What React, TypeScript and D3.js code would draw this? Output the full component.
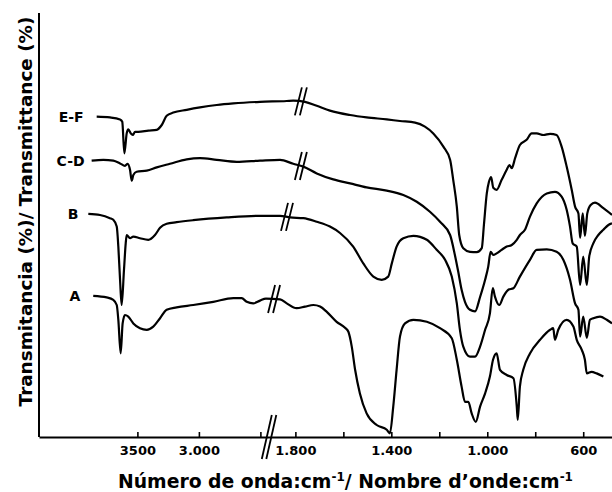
import React, { useRef, useEffect } from 'react';
import * as d3 from 'd3';

type Pt = [number, number];

// wavenumber (cm-1) / transmittance (offset, arbitrary units)
const spectrumEF: Pt[] = [
  [3831, 80.1], [3723, 79.9], [3641, 79.4], [3623, 78.8], [3606, 70.9], [3587, 75.9], [3574, 76.9],
  [3554, 75.9], [3538, 75.5], [3519, 76.3], [3493, 76.3], [3411, 76.6], [3343, 76.8], [3302, 78],
  [3262, 80.3], [3208, 81.1], [3099, 81.8], [2991, 82.4], [2855, 83], [2720, 83.4], [2503, 83.8],
  [1836, 84], [1809, 84.1], [1760, 83.8], [1711, 82.8], [1656, 81.6], [1572, 80.5], [1503, 79.9],
  [1419, 79.4], [1364, 79], [1301, 78.6], [1260, 77.6], [1225, 75.9], [1183, 72.6], [1155, 69.3],
  [1142, 64.3], [1127, 57.6], [1117, 50.5], [1100, 47.2], [1072, 46.3], [1044, 46.2], [1023, 47.2],
  [1014, 53], [1002, 60.9], [993, 63.8], [984, 65], [975, 62.3], [961, 61.8], [940, 64.3], [919, 66.8],
  [908, 68], [898, 67.2], [884, 69.7], [864, 73], [836, 74.3], [815, 75.9], [794, 75.9], [766, 75.5],
  [738, 75.8], [711, 75.5], [690, 72.6], [669, 67.6], [648, 61.8], [634, 57.6], [620, 55.9], [613, 49.8],
  [602, 55.9], [593, 50.3], [583, 55.9], [569, 58], [551, 58.6], [516, 57.2], [480, 55.5],
];

const spectrumCD: Pt[] = [
  [3872, 69.1], [3777, 69.3], [3696, 69.1], [3641, 68.4], [3601, 67.8], [3579, 68.3], [3560, 66.8],
  [3546, 64.1], [3533, 65.5], [3506, 66.3], [3424, 66.6], [3343, 67.4], [3235, 68.3], [3099, 69.4],
  [2991, 69.7], [2855, 69.3], [2693, 68.8], [2503, 69.1], [1864, 69.3], [1809, 68.3], [1767, 67.6],
  [1711, 65.9], [1642, 64.4], [1572, 63.4], [1503, 62.4], [1419, 61.6], [1350, 60.5], [1294, 58.8],
  [1239, 56.3], [1197, 53.8], [1155, 50.5], [1135, 45.5], [1121, 41.3], [1107, 36.8], [1093, 33.8],
  [1072, 31.8], [1051, 31.4], [1030, 35], [1009, 39.3], [996, 42.6], [986, 46.3], [975, 45.5],
  [961, 45.9], [940, 46.8], [919, 47.6], [898, 48], [877, 49.3], [864, 50.5], [843, 51.8], [822, 55.1],
  [794, 58.4], [752, 60.9], [718, 61.3], [690, 60.1], [669, 56.8], [655, 52.6], [644, 48.4], [627, 47.6],
  [613, 38], [600, 45.1], [585, 38], [575, 45.1], [558, 48.4], [537, 50.5], [516, 51.8], [495, 53], [480, 53.4],
];

const spectrumB: Pt[] = [
  [3899, 55.8], [3804, 55.5], [3723, 54.7], [3696, 54.3], [3668, 52.6], [3655, 47.6], [3641, 39.3],
  [3628, 33], [3609, 41.8], [3595, 48.4], [3587, 50.5], [3560, 49.7], [3533, 50.1], [3479, 49.7],
  [3411, 49.3], [3357, 50.5], [3316, 52.3], [3262, 53.3], [3181, 53.7], [3046, 54.2], [2774, 54.9],
  [2503, 55.3], [1864, 55.3], [1822, 54.9], [1767, 54.7], [1711, 53.8], [1656, 52.6], [1614, 51],
  [1559, 47.6], [1517, 43.4], [1475, 40.1], [1440, 39.3], [1413, 40.1], [1398, 43.4], [1378, 47.6],
  [1350, 49.7], [1308, 50.3], [1252, 49.3], [1211, 46.8], [1176, 44.3], [1148, 40.1], [1127, 33.4],
  [1114, 26.8], [1100, 22.6], [1072, 20.1], [1051, 20.1], [1030, 22.6], [1009, 26.8], [989, 30.9],
  [977, 37.2], [968, 35.1], [950, 33], [933, 35.1], [912, 36.8], [891, 37.2], [864, 40.1], [822, 44.3],
  [794, 46.8], [752, 46.9], [711, 46.3], [683, 44.3], [655, 39.3], [634, 33.4], [620, 31.8], [613, 25.1],
  [600, 30.1], [585, 24.8], [572, 29.3], [558, 29.7], [530, 30.1], [502, 29.3], [480, 28.4],
];

const spectrumA: Pt[] = [
  [3859, 35.3], [3750, 34.9], [3696, 34.3], [3668, 33], [3655, 29.3], [3636, 20.9], [3620, 28.4],
  [3601, 30.5], [3574, 30.1], [3533, 28.4], [3479, 27.2], [3424, 26.8], [3371, 27.6], [3316, 29.7],
  [3262, 31.8], [3181, 32.4], [3046, 33], [2883, 33.8], [2720, 34.7], [2652, 34.7], [2611, 33.8],
  [2558, 33.4], [2503, 34.1], [2455, 34.6], [1864, 34.4], [1836, 33.4], [1795, 32.2], [1760, 32.6],
  [1725, 33], [1697, 32.6], [1669, 31.3], [1628, 28.8], [1593, 27.3], [1579, 26.3], [1565, 22.6],
  [1551, 16.8], [1531, 10.9], [1503, 5.9], [1461, 3], [1419, 1.8], [1406, 0.9], [1392, 7.6],
  [1378, 16.8], [1364, 25.1], [1343, 28.4], [1308, 29.3], [1252, 28.8], [1197, 27.2], [1148, 24.7],
  [1127, 19.3], [1107, 12.6], [1093, 8.8], [1079, 8.8], [1065, 5.9], [1048, 3.8], [1030, 7.6],
  [1009, 10.9], [989, 15.1], [976, 19.3], [961, 20.9], [947, 16.8], [919, 15.5], [891, 14.7],
  [877, 7.6], [873, 4.3], [864, 12.6], [850, 16.8], [822, 20.9], [780, 24.3], [738, 26.8], [725, 27.2],
  [718, 24.3], [704, 26.8], [669, 29.3], [641, 27.6], [627, 24.3], [606, 21.8], [593, 19.3],
  [585, 15.9], [565, 16.3], [544, 15.9], [516, 15.1],
];

const seriesNames = ['E-F', 'C-D', 'B', 'A'];
const seriesData = [spectrumEF, spectrumCD, spectrumB, spectrumA];
// wavenumber where each trace carries its own "//" mark
const traceBreaks = [1777, 1777, 1835, 1889];

const tickValues = [3500, 3000, 2500, 1800, 1600, 1400, 1200, 1000, 800, 600];
const tickLabels: Record<number, string> = {
  3500: '3500', 3000: '3.000', 1800: '1.800', 1400: '1.400', 1000: '1.000', 600: '600',
};

const FONT = '"DejaVu Sans", sans-serif';

const App = () => {
  const svgRef = useRef<SVGSVGElement>(null);

  useEffect(() => {
    const svg = d3.select(svgRef.current);
    svg.selectAll('*').remove();

    const axisY = 437;
    const x = d3.scaleLinear().domain([4300, 2430, 1910, 480]).range([39, 269, 269, 612]);
    const y = d3.scaleLinear().domain([0, 106]).range([axisY, 13]);

    svg.append('rect').attr('width', 612).attr('height', 492).attr('fill', '#fff');

    // y axis (no ticks)
    svg.append('line')
      .attr('x1', 39).attr('x2', 39).attr('y1', 13).attr('y2', axisY)
      .attr('stroke', '#000').attr('stroke-width', 2);

    // x axis
    const xAxis = svg.append('g')
      .attr('transform', `translate(0,${axisY})`)
      .call(d3.axisBottom(x)
        .tickValues(tickValues)
        .tickSizeInner(-5)
        .tickSizeOuter(0)
        .tickPadding(9)
        .tickFormat(d => tickLabels[d as number] ?? ''));
    xAxis.select('.domain').attr('stroke-width', 2);
    xAxis.selectAll('.tick line').attr('stroke-width', 1.6);
    xAxis.selectAll('.tick text')
      .attr('font-family', FONT)
      .attr('font-weight', 'bold')
      .attr('font-size', 13);

    // axis break
    const bx = x(2430);
    [[-7.2, 2.8], [-2.7, 7.3]].forEach(([a, b]) => {
      svg.append('line')
        .attr('x1', bx + a).attr('y1', axisY + 22)
        .attr('x2', bx + b).attr('y2', axisY - 22)
        .attr('stroke', '#000').attr('stroke-width', 1.8);
    });

    const line = d3.line<Pt>()
      .x(d => x(d[0]))
      .y(d => y(d[1]))
      .curve(d3.curveMonotoneX);

    const yAt = (data: Pt[], w: number) => {
      const cx = x(w);
      for (let i = 1; i < data.length; i++) {
        const x0 = x(data[i - 1][0]);
        const x1 = x(data[i][0]);
        if (x1 >= cx) {
          const t = (cx - x0) / (x1 - x0);
          return y(data[i - 1][1]) + t * (y(data[i][1]) - y(data[i - 1][1]));
        }
      }
      return y(data[data.length - 1][1]);
    };

    const labelGap = [13, 7, 10, 13];

    seriesData.forEach((data, i) => {
      svg.append('path')
        .datum(data)
        .attr('d', line)
        .attr('fill', 'none')
        .attr('stroke', '#000')
        .attr('stroke-width', 2.2)
        .attr('stroke-linejoin', 'round');

      const cx = x(traceBreaks[i]);
      const cy = yAt(data, traceBreaks[i]);
      [[-6, 1], [-1, 6]].forEach(([a, b]) => {
        svg.append('line')
          .attr('x1', cx + a).attr('y1', cy + 14)
          .attr('x2', cx + b).attr('y2', cy - 14)
          .attr('stroke', '#000').attr('stroke-width', 1.8);
      });

      svg.append('text')
        .attr('x', x(data[0][0]) - labelGap[i])
        .attr('y', y(data[0][1]) + 5)
        .attr('text-anchor', 'end')
        .attr('font-family', FONT)
        .attr('font-weight', 'bold')
        .attr('font-size', 14)
        .text(seriesNames[i]);
    });

    // axis titles
    const xt = svg.append('text')
      .attr('x', 345.5).attr('y', 488)
      .attr('text-anchor', 'middle')
      .attr('font-family', FONT)
      .attr('font-weight', 'bold')
      .attr('font-size', 18.8);
    xt.append('tspan').text('Número de onda:cm');
    xt.append('tspan').attr('font-size', 12).attr('dy', -7).text('-1');
    xt.append('tspan').attr('dy', 7).text('/ Nombre d\u2019onde:cm');
    xt.append('tspan').attr('font-size', 12).attr('dy', -7).text('-1');

    svg.append('text')
      .attr('transform', 'translate(31.5,211.5) rotate(-90)')
      .attr('text-anchor', 'middle')
      .attr('font-family', FONT)
      .attr('font-weight', 'bold')
      .attr('font-size', 18.4)
      .text('Transmitancia (%)/ Transmittance (%)');

    return () => {
      svg.selectAll('*').remove();
    };
  }, []);

  return (
    <svg
      ref={svgRef}
      width={612}
      height={492}
      style={{ position: 'absolute', left: 0, top: 0 }}
    />
  );
};

export default App;
